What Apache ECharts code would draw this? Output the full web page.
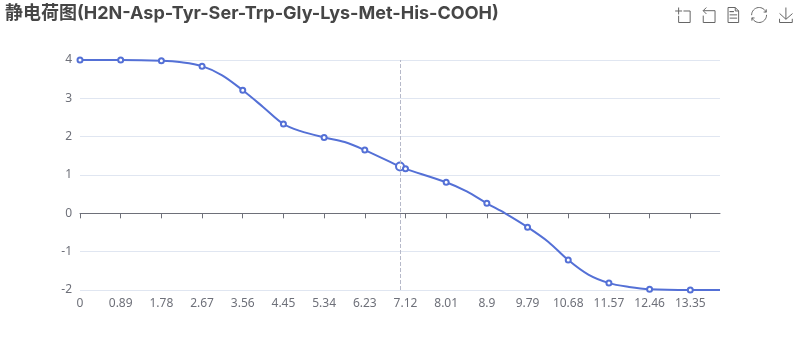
<!DOCTYPE html>
<html><head><meta charset="utf-8">
<style>html,body{margin:0;padding:0;background:#fff}#c{width:800px;height:360px}</style>
<script src="https://cdn.jsdelivr.net/npm/echarts@6/dist/echarts.min.js"></script>
</head><body><div id="c"></div>
<script>
const titleText = '静电荷图(H2N-Asp-Tyr-Ser-Trp-Gly-Lys-Met-His-COOH)';
const pH =     [0,0.89,1.78,2.22,2.67,3.11,3.56,4.01,4.45,4.81,5.34,5.79,6.23,7,7.12,8.01,8.46,8.9,9.3,9.79,10.24,10.68,11.12,11.57,12.01,12.46,13.35,14];
const charge = [4,4,3.98,3.94,3.84,3.6,3.21,2.77,2.33,2.15,1.98,1.86,1.65,1.22,1.16,0.81,0.57,0.26,0,-0.36,-0.74,-1.22,-1.6,-1.82,-1.92,-1.98,-2,-2];
const markedPH = [0,0.89,1.78,2.67,3.56,4.45,5.34,6.23,7.12,8.01,8.9,9.79,10.68,11.57,12.46,13.35];
const hoverPH = 7;
const lastPH = 14;
const font = '"Inter","Noto Sans CJK SC",sans-serif';
const labelFont = '"Noto Sans","Noto Sans CJK SC",sans-serif';
const chart = echarts.init(document.getElementById('c'), null, {renderer:'canvas'});
chart.setOption({
  animation:false,
  title:{text:titleText,left:0,top:0,textStyle:{fontSize:18,fontWeight:'bold',color:'#464646',fontFamily:font}},
  toolbox:{show:true,right:-10,top:-10,itemSize:15,itemGap:8,iconStyle:{borderColor:'#666'},feature:{dataZoom:{},dataView:{},restore:{},saveAsImage:{}}},
  grid:{left:80,right:80,top:60,bottom:70,outerBoundsMode:'none'},
  xAxis:{type:'value',min:0,max:lastPH,interval:0.89,
    splitLine:{show:false},
    axisTick:{show:true},
    axisLine:{onZero:true,lineStyle:{color:'#6E7079'}},
    axisLabel:{margin:8,showMaxLabel:false,fontSize:12,color:'#6E7079',fontFamily:labelFont}},
  yAxis:{type:'value',min:-2,max:4,interval:1,
    axisLine:{show:false},axisTick:{show:false},
    splitLine:{lineStyle:{color:'#E0E6F1'}},
    axisLabel:{fontSize:12,color:'#6E7079',fontFamily:labelFont}},
  series:[{type:'line',smooth:0.33,smoothMonotone:'none',
    symbol:'circle',showAllSymbol:true,
    lineStyle:{width:2,color:'#5470D6'},
    itemStyle:{color:'#fff',borderColor:'#5470D6',borderWidth:2},
    data:pH.map((x,i)=>({value:[x,charge[i]],
      symbolSize:x===hoverPH?8:(markedPH.includes(x)?5:0),
      itemStyle:(x===hoverPH||markedPH.includes(x))?undefined:{opacity:0}})),
    markLine:{silent:true,symbol:'none',label:{show:false},animation:false,
      lineStyle:{type:'dashed',color:'#B6B9C9',width:1},
      data:[{xAxis:hoverPH}]}
  }]
});
</script></body></html>
